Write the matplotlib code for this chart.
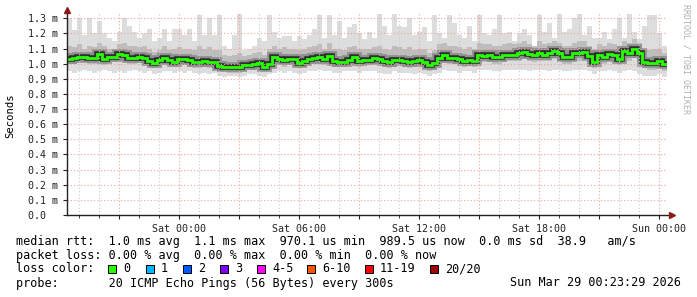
import numpy as np
import matplotlib
matplotlib.use("Agg")
import matplotlib.pyplot as plt
from matplotlib.patches import Rectangle

plt.rcParams['font.family'] = ['DejaVu Sans Mono']

# time in hours relative to Sat 00:00, one column = 15 min
t_start = -5.6
step = 0.25

# median rtt per column (ms)
median = [
    1.030, 1.035, 1.047, 1.047, 1.040, 1.040, 1.065, 1.030, 1.047, 1.047,
    1.065, 1.060, 1.036, 1.040, 1.047, 1.040, 1.020, 1.003, 1.025, 1.040,
    1.025, 1.014, 1.030, 1.028, 1.025, 1.014, 1.014, 1.020, 1.010, 1.014,
    0.985, 0.981, 0.978, 0.975, 0.975, 0.990, 0.992, 1.000, 1.005, 0.980,
    0.995, 1.045, 1.030, 1.025, 1.028, 1.030, 1.005, 1.020, 1.030, 1.036,
    1.045, 1.030, 1.050, 1.020, 1.014, 1.014, 1.025, 1.045, 1.020, 1.025,
    1.025, 1.036, 1.030, 1.020, 1.008, 1.025, 1.025, 1.015, 1.010, 1.015,
    1.025, 1.010, 0.990, 1.003, 1.040, 1.058, 1.040, 1.036, 1.030, 1.020,
    1.025, 1.020, 1.060, 1.050, 1.058, 1.045, 1.045, 1.055, 1.058, 1.058,
    1.070, 1.080, 1.065, 1.058, 1.070, 1.060, 1.069, 1.085, 1.070, 1.047,
    1.045, 1.069, 1.069, 1.080, 1.050, 1.014, 1.060, 1.045, 1.065, 1.060,
    1.030, 1.085, 1.070, 1.095, 1.070, 1.010, 1.003, 1.005, 1.020, 0.995,
]

# smoke: slowest ping, upper quartile, lower quartile, fastest ping (ms)
smoke_max = [
    1.30, 1.22, 1.30, 1.19, 1.30, 1.20, 1.28, 1.20, 1.17, 1.15,
    1.21, 1.30, 1.25, 1.21, 1.17, 1.20, 1.23, 1.15, 1.17, 1.23,
    1.15, 1.23, 1.23, 1.19, 1.23, 1.15, 1.32, 1.19, 1.30, 1.19,
    1.32, 1.12, 1.10, 1.19, 1.33, 1.09, 1.10, 1.12, 1.17, 1.15,
    1.32, 1.21, 1.17, 1.18, 1.18, 1.15, 1.18, 1.16, 1.19, 1.23,
    1.32, 1.17, 1.32, 1.19, 1.28, 1.17, 1.24, 1.26, 1.20, 1.16,
    1.21, 1.17, 1.33, 1.25, 1.19, 1.33, 1.25, 1.24, 1.30, 1.19,
    1.21, 1.24, 1.15, 1.32, 1.20, 1.17, 1.32, 1.27, 1.19, 1.17,
    1.25, 1.15, 1.32, 1.20, 1.19, 1.23, 1.32, 1.20, 1.21, 1.15,
    1.20, 1.23, 1.19, 1.12, 1.32, 1.21, 1.27, 1.17, 1.33, 1.21,
    1.23, 1.30, 1.33, 1.19, 1.25, 1.17, 1.17, 1.21, 1.16, 1.23,
    1.30, 1.17, 1.33, 1.21, 1.16, 1.25, 1.32, 1.32, 1.20, 1.12,
]
smoke_hi = [
    1.12, 1.11, 1.13, 1.10, 1.12, 1.11, 1.14, 1.12, 1.10, 1.10,
    1.13, 1.14, 1.12, 1.12, 1.11, 1.12, 1.10, 1.08, 1.09, 1.12,
    1.09, 1.10, 1.11, 1.10, 1.10, 1.09, 1.12, 1.10, 1.11, 1.09,
    1.09, 1.06, 1.05, 1.06, 1.07, 1.05, 1.06, 1.07, 1.08, 1.06,
    1.10, 1.12, 1.10, 1.11, 1.10, 1.10, 1.09, 1.10, 1.11, 1.12,
    1.13, 1.10, 1.14, 1.10, 1.10, 1.09, 1.11, 1.12, 1.10, 1.10,
    1.10, 1.11, 1.12, 1.10, 1.09, 1.12, 1.11, 1.10, 1.11, 1.09,
    1.10, 1.10, 1.07, 1.09, 1.13, 1.14, 1.12, 1.12, 1.11, 1.10,
    1.11, 1.10, 1.14, 1.13, 1.13, 1.12, 1.12, 1.13, 1.14, 1.13,
    1.14, 1.15, 1.13, 1.12, 1.15, 1.13, 1.14, 1.15, 1.14, 1.12,
    1.12, 1.14, 1.15, 1.15, 1.12, 1.10, 1.13, 1.12, 1.14, 1.13,
    1.12, 1.15, 1.14, 1.16, 1.14, 1.10, 1.09, 1.10, 1.10, 1.07,
]
smoke_lo = [
    1.00, 1.00, 1.01, 1.01, 1.00, 1.00, 1.02, 0.99, 1.01, 1.01,
    1.02, 1.02, 1.00, 1.00, 1.01, 1.00, 0.98, 0.97, 0.98, 1.00,
    0.99, 0.98, 0.99, 0.99, 0.98, 0.97, 0.97, 0.98, 0.97, 0.97,
    0.95, 0.95, 0.94, 0.94, 0.94, 0.95, 0.96, 0.96, 0.97, 0.95,
    0.96, 1.00, 0.99, 0.98, 0.99, 0.99, 0.97, 0.98, 0.99, 1.00,
    1.00, 0.99, 1.01, 0.98, 0.98, 0.98, 0.99, 1.00, 0.98, 0.99,
    0.99, 1.00, 0.99, 0.98, 0.97, 0.98, 0.99, 0.98, 0.97, 0.98,
    0.99, 0.97, 0.95, 0.96, 1.00, 1.01, 1.00, 1.00, 0.99, 0.98,
    0.99, 0.98, 1.01, 1.01, 1.01, 1.00, 1.00, 1.01, 1.02, 1.02,
    1.02, 1.03, 1.02, 1.01, 1.02, 1.02, 1.02, 1.03, 1.02, 1.00,
    1.00, 1.02, 1.02, 1.03, 1.00, 0.97, 1.01, 1.00, 1.02, 1.01,
    0.99, 1.03, 1.02, 1.04, 1.02, 0.97, 0.96, 0.96, 0.97, 0.95,
]
smoke_min = [
    0.95, 0.94, 0.95, 0.96, 0.95, 0.94, 0.95, 0.96, 0.95, 0.94,
    0.95, 0.94, 0.95, 0.96, 0.95, 0.94, 0.95, 0.93, 0.94, 0.95,
    0.95, 0.94, 0.95, 0.94, 0.95, 0.94, 0.93, 0.94, 0.93, 0.94,
    0.92, 0.91, 0.92, 0.92, 0.91, 0.92, 0.93, 0.93, 0.92, 0.91,
    0.93, 0.94, 0.95, 0.94, 0.95, 0.94, 0.93, 0.94, 0.95, 0.95,
    0.96, 0.95, 0.95, 0.94, 0.94, 0.95, 0.95, 0.95, 0.94, 0.95,
    0.95, 0.95, 0.94, 0.93, 0.93, 0.95, 0.94, 0.94, 0.94, 0.93,
    0.94, 0.93, 0.92, 0.93, 0.94, 0.96, 0.95, 0.95, 0.94, 0.95,
    0.95, 0.94, 0.96, 0.96, 0.96, 0.95, 0.95, 0.96, 0.96, 0.96,
    0.96, 0.96, 0.95, 0.96, 0.96, 0.96, 0.95, 0.96, 0.96, 0.95,
    0.95, 0.96, 0.96, 0.96, 0.95, 0.93, 0.95, 0.95, 0.96, 0.95,
    0.94, 0.95, 0.96, 0.95, 0.93, 0.92, 0.92, 0.92, 0.93, 0.91,
]

tick_pos = [0, 6, 12, 18, 24]
tick_labels = ["Sat 00:00", "Sat 06:00", "Sat 12:00", "Sat 18:00", "Sun 00:00"]

loss_labels = ["0", "1", "2", "3", "4-5", "6-10", "11-19", "20/20"]
loss_colors = ["#26ff00", "#00b8ff", "#0059ff", "#7e00ff",
               "#ff00ff", "#ff5500", "#ff0000", "#a10000"]
loss_x = [108, 146, 183, 220, 257, 307, 365, 430]   # pixel x of the boxes

W, H = 697, 297
fig = plt.figure(figsize=(W / 100, H / 100), dpi=100)
ax = fig.add_axes([67 / W, 82 / H, 600 / W, 202 / H])

edges = t_start + step * np.arange(len(median) + 1)
ax.set_xlim(edges[0], edges[-1])
ax.set_ylim(0, 1.335)

# smoke and median
ax.stairs(smoke_max, edges, baseline=smoke_min, fill=True, color='#dddddd', lw=0, zorder=1)
ax.stairs(smoke_hi, edges, baseline=smoke_lo, fill=True, color='#bdbdbd', lw=0, zorder=1.1)
ax.stairs(median, edges, baseline=None, color='#7a7a7a', lw=7, alpha=0.7, zorder=1.15)
ax.stairs(median, edges, baseline=None, color='#2e2e2e', lw=4, zorder=1.2)
ax.stairs(median, edges, baseline=None, color='#26ff00', lw=2.0, zorder=3)

# grid
ax.set_axisbelow('line')
ax.set_xticks(np.arange(-3, 25, 3))
ax.set_xticks(np.arange(-5, 25, 1), minor=True)
ax.set_xticklabels([tick_labels[tick_pos.index(h)] if h in tick_pos else ""
                    for h in np.arange(-3, 25, 3)])
yt = np.arange(0, 1.31, 0.1)
ax.set_yticks(yt)
ax.set_yticklabels(["0.0  "] + ["%.1f m" % v for v in yt[1:]])
ax.grid(which='major', color='#f2a0a0', linestyle=(0, (1, 2)), lw=0.8)
ax.grid(which='minor', axis='x', color='#c8c8c8', linestyle=(0, (1, 2)), lw=0.8)
ax.tick_params(which='major', length=3, width=0.8, labelsize=7.2, pad=3.5, colors='#222222')
ax.tick_params(which='minor', length=2, width=0.6, color='#222222')

for s in ax.spines.values():
    s.set_visible(False)
ax.plot([0, 0], [0, 1.017], transform=ax.transAxes, color='#222222', lw=1, clip_on=False, zorder=4)
ax.plot([0, 1.008], [0, 0], transform=ax.transAxes, color='#222222', lw=1, clip_on=False, zorder=4)
ax.plot([0], [1.017], transform=ax.transAxes, marker='^', ms=4, color='#8b1a1a', clip_on=False, zorder=5)
ax.plot([1.008], [0], transform=ax.transAxes, marker='>', ms=4, color='#8b1a1a', clip_on=False, zorder=5)

# labels
fig.text(10 / W, 1 - 116 / H, "Seconds", rotation=90, ha='center', va='center', fontsize=7.6)
fig.text(686 / W, 1 - 4 / H, "RRDTOOL / TOBI OETIKER", rotation=270, ha='center', va='top',
         fontsize=6, color='#b0b0b0')

fs = 8.5
def fy(y):
    return 1 - y / H

fig.text(16 / W, fy(241), "median rtt:  1.0 ms avg  1.1 ms max  970.1 us min  989.5 us now  0.0 ms sd  38.9   am/s",
         fontsize=fs, va='center')
fig.text(16 / W, fy(255), "packet loss: 0.00 % avg  0.00 % max  0.00 % min  0.00 % now",
         fontsize=fs, va='center')
fig.text(16 / W, fy(269), "loss color:", fontsize=fs, va='center')
for lx, lab, col in zip(loss_x, loss_labels, loss_colors):
    fig.patches.append(Rectangle((lx / W, fy(273)), 8 / W, 8 / H, transform=fig.transFigure,
                                 facecolor=col, edgecolor='#000000', lw=0.7))
    fig.text((lx + 15) / W, fy(269), lab, fontsize=fs, va='center')
fig.text(16 / W, fy(283), "probe:       20 ICMP Echo Pings (56 Bytes) every 300s", fontsize=fs, va='center')
fig.text(681 / W, fy(283), "Sun Mar 29 00:23:29 2026", fontsize=fs, va='center', ha='right')

fig.savefig("out.png", dpi=100)
